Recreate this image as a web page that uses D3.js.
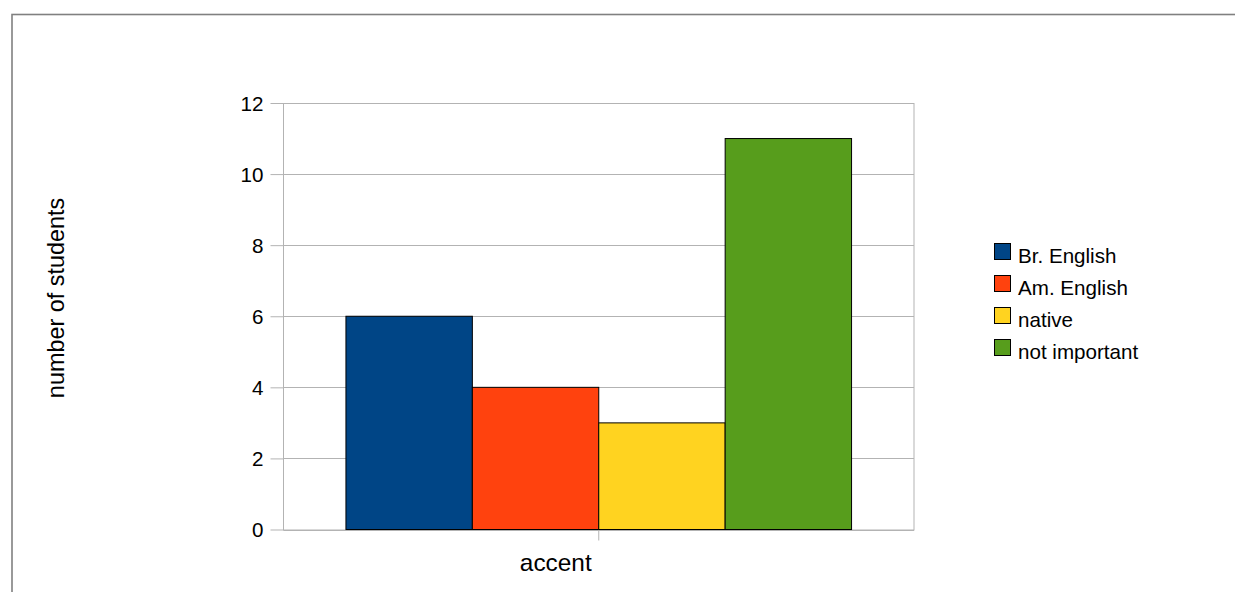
<!DOCTYPE html>
<html><head><meta charset="utf-8">
<script src="https://cdn.jsdelivr.net/npm/d3@7"></script>
<style>body{margin:0;background:#fff}svg{display:block}text{font-family:"Liberation Sans",Arial,sans-serif;fill:#000}</style>
</head><body>
<script>
const categories = ["accent"];
const seriesNames = ["Br. English", "Am. English", "native", "not important"];
const seriesValues = [6, 4, 3, 11];
const seriesColors = ["#004586", "#ff420e", "#ffd320", "#579d1c"];
const yTicks = [0, 2, 4, 6, 8, 10, 12];

const W = 1235, H = 592;
const svg = d3.select("body").append("svg").attr("width", W).attr("height", H);

// outer frame
svg.append("rect").attr("x", 12).attr("y", 14.5).attr("width", 1240).attr("height", 600)
  .attr("fill", "none").attr("stroke", "#808080").attr("stroke-width", 1.6);

const plot = {left: 283.5, right: 914, top: 103, bottom: 529.5};
const y = d3.scaleLinear().domain([0, 12]).range([plot.bottom, plot.top]);
const x0 = d3.scaleBand().domain(categories).range([plot.left, plot.right]).paddingInner(0).paddingOuter(0.1235);
const x1 = d3.scaleBand().domain(seriesNames).range([0, x0.bandwidth()]);

const g = svg.append("g");
// gridlines
g.selectAll("line.grid").data(yTicks).join("line")
  .attr("x1", plot.left).attr("x2", plot.right)
  .attr("y1", d => Math.round(y(d)) + 0.5).attr("y2", d => Math.round(y(d)) + 0.5)
  .attr("stroke", "#b3b3b3").attr("stroke-width", 1);
// plot border
g.append("rect").attr("x", plot.left).attr("y", plot.top + 0.5)
  .attr("width", plot.right - plot.left).attr("height", plot.bottom - plot.top)
  .attr("fill", "none").attr("stroke", "#b3b3b3").attr("stroke-width", 1);

// y axis
const yAxis = d3.axisLeft(y).tickValues(yTicks).tickSize(13).tickPadding(7).tickFormat(d3.format("d"));
const ya = svg.append("g").attr("transform", `translate(${plot.left},0)`).call(yAxis);
ya.select(".domain").remove();
ya.selectAll(".tick line").attr("stroke", "#b3b3b3");
ya.selectAll(".tick text").style("font-size", "20.6px").style("font-family", '"Liberation Sans",Arial,sans-serif').attr("fill", "#000").attr("dy", "0.36em");

// x axis tick at category center
const xa = svg.append("g").attr("transform", `translate(0,${plot.bottom})`)
  .call(d3.axisBottom(x0).tickSize(11).tickPadding(0));
xa.select(".domain").remove();
xa.selectAll(".tick line").attr("stroke", "#b3b3b3");
xa.selectAll(".tick text").style("font-size", "24.4px").style("font-family", '"Liberation Sans",Arial,sans-serif').attr("fill", "#000")
  .attr("dy", null).attr("y", 41).attr("dx", "-43");

// bars
const bars = svg.append("g");
categories.forEach(c => {
  bars.selectAll("rect.b").data(seriesNames.map((s, i) => ({s, v: seriesValues[i], c: seriesColors[i]}))).join("rect")
    .attr("x", d => x0(c) + x1(d.s))
    .attr("y", d => y(d.v))
    .attr("width", x1.bandwidth())
    .attr("height", d => y(0) - y(d.v))
    .attr("fill", d => d.c).attr("stroke", "#000").attr("stroke-width", 1);
});

// y axis title
svg.append("text").attr("transform", "translate(64,298) rotate(-90)")
  .attr("text-anchor", "middle").style("font-size", "23.4px").text("number of students");

// legend
const leg = svg.append("g").attr("transform", "translate(994,243)");
const li = leg.selectAll("g").data(seriesNames).join("g").attr("transform", (d, i) => `translate(0,${i * 32})`);
li.append("rect").attr("x", 0.5).attr("y", 0.5).attr("width", 16).attr("height", 16)
  .attr("fill", (d, i) => seriesColors[i]).attr("stroke", "#000").attr("stroke-width", 1);
li.append("text").attr("x", 24).attr("y", 20).style("font-size", "20.6px").text(d => d);
</script>
</body></html>
